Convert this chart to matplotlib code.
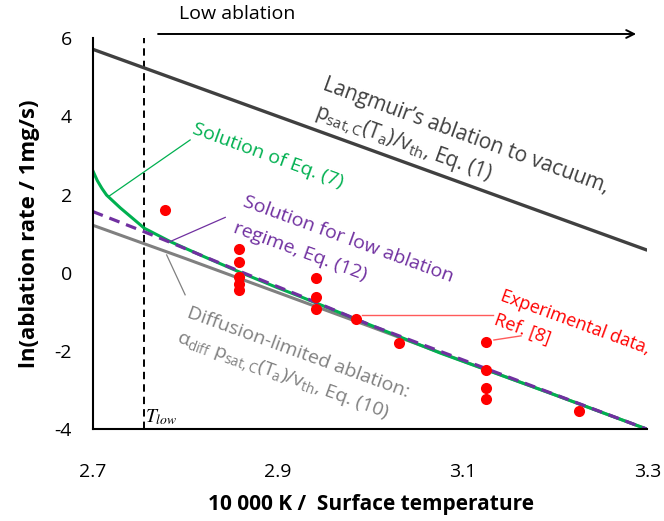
import numpy as np
import matplotlib
matplotlib.use('Agg')
import matplotlib.pyplot as plt

plt.rcParams['font.family'] = ['Open Sans', 'DejaVu Sans']
plt.rcParams['mathtext.fontset'] = 'custom'
plt.rcParams['mathtext.rm'] = 'Open Sans'
plt.rcParams['mathtext.it'] = 'Open Sans:italic'
plt.rcParams['mathtext.bf'] = 'Open Sans:bold'

# ==========================================
# data
# experimental points, Ref. [8]
exp_x = [2.778, 2.858, 2.858, 2.858, 2.858, 2.858, 2.942, 2.942, 2.942,
         2.985, 3.031, 3.126, 3.126, 3.126, 3.126, 3.226]
exp_y = [1.61, 0.60, 0.27, -0.10, -0.28, -0.44, -0.12, -0.62, -0.92,
         -1.17, -1.80, -1.76, -2.48, -2.95, -3.23, -3.53]

# Langmuir, Eq. (1)
lang_x = [2.7, 3.3]
lang_y = [5.72, 0.58]

# solution of Eq. (7)
eq7_x = [2.7, 2.705, 2.71, 2.715, 2.73, 2.745, 2.756, 2.784, 2.82, 2.858, 2.9, 2.924, 3.0, 3.076, 3.2, 3.3]
eq7_y = [2.62, 2.36, 2.16, 1.99, 1.66, 1.36, 1.14, 0.80, 0.42, 0.03, -0.38, -0.60, -1.33, -2.05, -3.12, -4.0]

# low ablation regime, Eq. (12)
eq12_x = [2.7, 2.756, 2.784, 2.858, 2.924, 3.0, 3.3]
eq12_y = [1.57, 1.05, 0.78, 0.05, -0.58, -1.33, -4.0]

# diffusion-limited, Eq. (10)
diff_x = [2.7, 2.8, 2.9, 3.0, 3.1, 3.2, 3.3]
diff_y = [1.22, 0.37, -0.50, -1.37, -2.25, -3.12, -4.0]

t_low = 2.755

xticks = [2.7, 2.9, 3.1, 3.3]
yticks = [-4, -2, 0, 2, 4, 6]

c_green = '#00b050'
c_purple = '#7030a0'
c_red = '#ff0000'
c_dark = '#404040'
c_gray = '#808080'

fig = plt.figure(figsize=(6.64, 5.21), dpi=100)
ax = fig.add_axes([0.1396, 0.176, 0.8353, 0.7505])

ax.plot(lang_x, lang_y, color=c_dark, lw=2.4, solid_capstyle='butt')
ax.plot(diff_x, diff_y, color=c_gray, lw=2.2)
ax.plot(eq7_x, eq7_y, color=c_green, lw=2.2)
ax.plot(eq12_x, eq12_y, color=c_purple, lw=2.3, dashes=(3.4, 2.2))
ax.plot(exp_x, exp_y, 'o', color=c_red, ms=8, mec='none', zorder=5)
ax.plot([t_low, t_low], [-4, 6], color='black', lw=1.4, dashes=(3.8, 2.6), zorder=1)

ax.set_xlim(2.7, 3.3)
ax.set_ylim(-4, 6)
ax.set_xticks(xticks)
ax.set_xticklabels(['%.1f' % v for v in xticks])
ax.set_yticks(yticks)
ax.set_yticklabels([str(v) for v in yticks])
ax.tick_params(length=0, labelsize=14)
ax.tick_params(axis='x', pad=24)
ax.tick_params(axis='y', pad=15)
for s in ['top', 'right']:
    ax.spines[s].set_visible(False)
for s in ['left', 'bottom']:
    ax.spines[s].set_linewidth(1.5)

fig.text(0.558, 0.031, '10 000 K /  Surface temperature', ha='center', va='center',
         fontsize=15, fontweight='bold')
fig.text(0.045, 0.551, 'ln(ablation rate / 1mg/s)', ha='center', va='center',
         rotation=90, fontsize=16, fontweight='bold')

# labels on the curves
kw = dict(rotation=-20, rotation_mode='anchor', ha='left', va='baseline')
ax.text(2.948, 4.70, 'Langmuir\u2019s ablation to vacuum,', color=c_dark, fontsize=15, **kw)
ax.text(2.9394, 3.98, r'$\mathrm{p_{sat,C}(T_a)/v_{th}}$, Eq. (1)', color=c_dark, fontsize=15, **kw)
ax.text(2.8064, 3.57, 'Solution of Eq. (7)', color=c_green, fontsize=14, **kw)
ax.text(2.8612, 1.71, 'Solution for low ablation', color=c_purple, fontsize=14, **kw)
ax.text(2.8515, 1.05, 'regime, Eq. (12)', color=c_purple, fontsize=14, **kw)
ax.text(2.8009, -1.14, 'Diffusion-limited ablation:', color=c_gray, fontsize=14, **kw)
ax.text(2.790, -1.77, r'$\mathrm{\alpha_{diff}\ p_{sat,C}(T_a)/v_{th}}$, Eq. (10)', color=c_gray,
        fontsize=14, **kw)
ax.text(3.140, -0.71, 'Experimental data,', color=c_red, fontsize=13, **kw)
ax.text(3.1335, -1.30, 'Ref. [8]', color=c_red, fontsize=13, **kw)

# leader lines
ax.plot([2.8054, 2.7169], [3.40, 1.95], color=c_green, lw=0.9)
ax.plot([2.8434, 2.7836], [1.42, 0.80], color=c_purple, lw=0.9)
ax.plot([2.780, 2.800], [0.46, -0.56], color=c_gray, lw=0.9)
ax.plot([2.991, 3.133], [-1.07, -1.07], color='#ff5a5a', lw=1.0)
ax.plot([3.134, 3.1634], [-1.716, -1.61], color='#ff5a5a', lw=1.0)

ax.text(2.7567, -3.81, r'$T_{low}$', fontsize=14, math_fontfamily='stix', ha='left', va='baseline')

# low ablation arrow above the plot
ax.annotate('', xy=(3.2879, 6.11), xytext=(2.7707, 6.11), annotation_clip=False,
            arrowprops=dict(arrowstyle='->', color='black', lw=1.4, mutation_scale=14,
                            shrinkA=0, shrinkB=0))
ax.text(2.7934, 6.486, 'Low ablation', fontsize=14, ha='left', va='baseline', clip_on=False)

fig.savefig('out.png', dpi=100)
